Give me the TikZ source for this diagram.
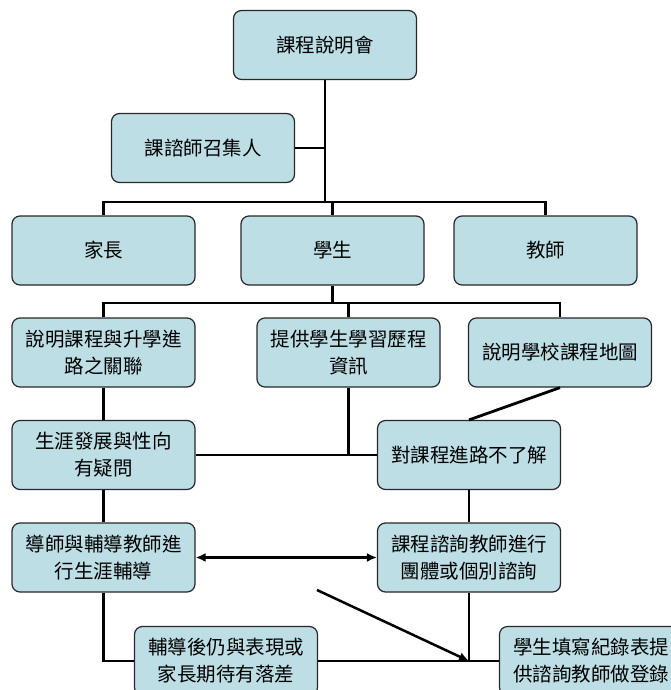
\documentclass[tikz,border=0pt]{standalone}
\usepackage{fontspec}
\newfontfamily\cjk{Noto Sans CJK TC}
\usetikzlibrary{arrows.meta}
\definecolor{boxfill}{RGB}{188,222,228}
\definecolor{boxline}{RGB}{40,40,40}
\tikzset{
  box/.style={draw=boxline, line width=1.2pt, fill=boxfill, rounded corners=8pt,
    minimum width=183pt, minimum height=69pt, inner sep=0pt, align=center,
    font=\cjk\fontsize{19.5}{27}\selectfont},
  conn/.style={line width=2.8pt, black},
  arr/.style={line width=2.5pt, black, -{Latex[length=10pt,width=9pt]}},
  darr/.style={line width=2.5pt, black, {Latex[length=10pt,width=9pt]}-{Latex[length=10pt,width=9pt]}}
}
\begin{document}
\begin{tikzpicture}[x=1pt,y=-1pt]
\useasboundingbox[fill=white] (0,0) rectangle (671,690);
% nodes
\node[box] (top) at (325,45) {課程說明會};
\node[box] (zhao) at (203,148) {課諮師召集人};
\node[box] (jz) at (103.5,250.5) {家長};
\node[box] (xs) at (332.5,250.5) {學生};
\node[box] (js) at (545.5,250.5) {教師};
\node[box] (A) at (103.5,352.5) {說明課程與升學進\\路之關聯};
\node[box] (B) at (348.5,352.5) {提供學生學習歷程\\資訊};
\node[box] (C) at (560,352.5) {說明學校課程地圖};
\node[box] (D) at (103.5,455) {生涯發展與性向\\有疑問};
\node[box] (E) at (469,455) {對課程進路不了解};
\node[box] (F) at (103.5,557.5) {導師與輔導教師進\\行生涯輔導};
\node[box] (G) at (469,557.5) {課程諮詢教師進行\\團體或個別諮詢};
\node[box] (H) at (226,661) {輔導後仍與表現或\\家長期待有落差};
\node[box] (I) at (591,661) {學生填寫紀錄表提\\供諮詢教師做登錄};
% tree 1
\coordinate (b1) at (325,202);
\draw[conn] (top.south) -- (b1);
\draw[conn] (zhao.east) -- (zhao.east -| top.south);
\draw[conn] (jz.north) |- (b1) -| (js.north);
\draw[conn] (b1 -| xs.north) -- (xs.north);
% tree 2
\coordinate (b2) at (332.5,303);
\draw[conn] (xs.south) -- (b2);
\draw[conn] (A.north) |- (b2) -| (C.north);
\draw[conn] (b2 -| B.north) -- (B.north);
% middle
\draw[conn] (A.south) -- (D.north);
\draw[conn] (D.east) -- (E.west);
\draw[conn] (B.south) -- (B.south |- D.east);
\draw[conn] (C.south) -- (E.north);
\draw[conn] (D.south) -- (F.north);
\draw[conn] (E.south) -- (G.north);
\draw[darr] (F.east) -- (G.west);
% bottom
\draw[conn] (F.south) |- (H.west);
\draw[conn] (H.east) -- (I.west);
\coordinate (j) at (G.south |- H.east);
\draw[conn] (G.south) -- (j);
\coordinate (ds) at (317,590);
\draw[arr] (ds) -- (j);
\end{tikzpicture}
\end{document}
